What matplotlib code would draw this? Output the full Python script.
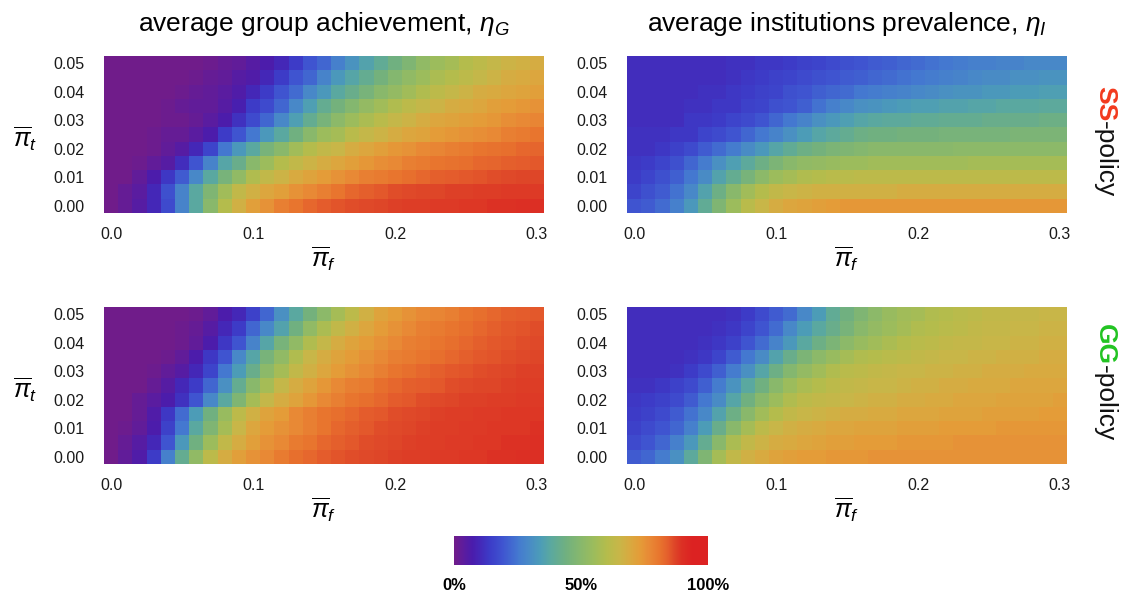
import matplotlib
matplotlib.use('Agg')
import matplotlib.pyplot as plt
from matplotlib.colors import LinearSegmentedColormap

# ---------------- data ----------------
pi_f = [0.00, 0.01, 0.02, 0.03, 0.04, 0.05, 0.06, 0.07, 0.08, 0.09, 0.10,
        0.11, 0.12, 0.13, 0.14, 0.15, 0.16, 0.17, 0.18, 0.19, 0.20,
        0.21, 0.22, 0.23, 0.24, 0.25, 0.26, 0.27, 0.28, 0.29, 0.30]
pi_t = [0.050, 0.045, 0.040, 0.035, 0.030, 0.025, 0.020, 0.015, 0.010, 0.005, 0.000]

x_ticks = [0.0, 0.1, 0.2, 0.3]
x_ticklabels = ["0.0", "0.1", "0.2", "0.3"]
y_ticks = [0.00, 0.01, 0.02, 0.03, 0.04, 0.05]
y_ticklabels = ["0.00", "0.01", "0.02", "0.03", "0.04", "0.05"]
cbar_ticks = [0.0, 0.5, 1.0]
cbar_labels = ["0%", "50%", "100%"]

titles = ["average group achievement, $\\eta_G$", "average institutions prevalence, $\\eta_I$"]
policies = ["SS", "GG"]

# SS-policy, group achievement (rows: pi_t from 0.05 down to 0.00)
ss_group = [
    [0, 0, 0, 0, 0, 0, 0, 0.01, 0.02, 0.03, 0.05, 0.07, 0.10, 0.14, 0.19, 0.22, 0.27, 0.32, 0.36, 0.40, 0.44, 0.48, 0.52, 0.55, 0.57, 0.60, 0.62, 0.64, 0.66, 0.67, 0.68],
    [0, 0, 0, 0, 0, 0, 0.01, 0.02, 0.03, 0.05, 0.06, 0.10, 0.14, 0.19, 0.22, 0.28, 0.33, 0.37, 0.41, 0.45, 0.49, 0.52, 0.55, 0.58, 0.60, 0.62, 0.64, 0.66, 0.68, 0.69, 0.70],
    [0, 0, 0, 0, 0, 0.01, 0.02, 0.03, 0.04, 0.06, 0.10, 0.14, 0.19, 0.23, 0.29, 0.33, 0.38, 0.42, 0.46, 0.50, 0.53, 0.56, 0.59, 0.62, 0.64, 0.66, 0.68, 0.69, 0.70, 0.71, 0.72],
    [0, 0, 0, 0, 0.01, 0.02, 0.03, 0.03, 0.05, 0.08, 0.14, 0.17, 0.22, 0.29, 0.35, 0.41, 0.45, 0.49, 0.53, 0.56, 0.59, 0.62, 0.64, 0.66, 0.68, 0.69, 0.70, 0.72, 0.73, 0.74, 0.75],
    [0, 0, 0, 0, 0.01, 0.01, 0.02, 0.04, 0.07, 0.12, 0.17, 0.22, 0.29, 0.35, 0.41, 0.46, 0.51, 0.55, 0.58, 0.61, 0.64, 0.66, 0.68, 0.70, 0.71, 0.72, 0.73, 0.74, 0.76, 0.77, 0.78],
    [0, 0, 0, 0.01, 0.02, 0.02, 0.04, 0.07, 0.14, 0.19, 0.25, 0.33, 0.38, 0.44, 0.50, 0.55, 0.57, 0.61, 0.64, 0.66, 0.68, 0.70, 0.71, 0.73, 0.74, 0.75, 0.76, 0.77, 0.79, 0.80, 0.81],
    [0, 0, 0, 0.01, 0.03, 0.05, 0.10, 0.16, 0.25, 0.33, 0.38, 0.46, 0.50, 0.56, 0.60, 0.63, 0.65, 0.68, 0.70, 0.72, 0.74, 0.75, 0.77, 0.78, 0.79, 0.80, 0.81, 0.815, 0.82, 0.83, 0.835],
    [0, 0, 0.01, 0.03, 0.05, 0.11, 0.19, 0.28, 0.37, 0.42, 0.50, 0.55, 0.60, 0.63, 0.66, 0.68, 0.70, 0.72, 0.74, 0.76, 0.77, 0.79, 0.80, 0.81, 0.815, 0.82, 0.83, 0.835, 0.84, 0.845, 0.85],
    [0, 0, 0.03, 0.07, 0.13, 0.20, 0.29, 0.38, 0.46, 0.52, 0.59, 0.63, 0.66, 0.69, 0.71, 0.73, 0.75, 0.77, 0.79, 0.80, 0.81, 0.82, 0.83, 0.84, 0.845, 0.85, 0.855, 0.86, 0.865, 0.87, 0.87],
    [0, 0.02, 0.04, 0.10, 0.18, 0.28, 0.38, 0.48, 0.56, 0.63, 0.67, 0.70, 0.72, 0.75, 0.77, 0.79, 0.81, 0.83, 0.84, 0.85, 0.86, 0.865, 0.87, 0.87, 0.875, 0.875, 0.88, 0.88, 0.885, 0.885, 0.885],
    [0, 0.02, 0.05, 0.10, 0.17, 0.28, 0.38, 0.50, 0.60, 0.67, 0.72, 0.75, 0.79, 0.81, 0.83, 0.845, 0.855, 0.86, 0.865, 0.87, 0.875, 0.88, 0.88, 0.885, 0.885, 0.89, 0.89, 0.895, 0.895, 0.90, 0.90],
]

# SS-policy, institutions prevalence
ss_inst = [
    [0.11, 0.11, 0.11, 0.11, 0.11, 0.11, 0.11, 0.12, 0.12, 0.13, 0.13, 0.14, 0.15, 0.16, 0.17, 0.18, 0.19, 0.20, 0.21, 0.22, 0.23, 0.24, 0.25, 0.26, 0.27, 0.27, 0.28, 0.28, 0.29, 0.29, 0.29],
    [0.11, 0.11, 0.11, 0.11, 0.11, 0.11, 0.11, 0.12, 0.13, 0.14, 0.15, 0.16, 0.17, 0.18, 0.19, 0.20, 0.21, 0.22, 0.23, 0.24, 0.25, 0.26, 0.27, 0.28, 0.29, 0.30, 0.30, 0.31, 0.31, 0.32, 0.32],
    [0.11, 0.11, 0.11, 0.11, 0.11, 0.12, 0.12, 0.13, 0.14, 0.15, 0.16, 0.18, 0.19, 0.21, 0.22, 0.23, 0.25, 0.26, 0.27, 0.28, 0.29, 0.30, 0.31, 0.32, 0.32, 0.33, 0.33, 0.34, 0.34, 0.35, 0.35],
    [0.11, 0.11, 0.11, 0.11, 0.12, 0.12, 0.13, 0.13, 0.15, 0.16, 0.18, 0.19, 0.21, 0.24, 0.27, 0.29, 0.31, 0.32, 0.33, 0.34, 0.35, 0.35, 0.36, 0.36, 0.37, 0.37, 0.38, 0.38, 0.38, 0.39, 0.39],
    [0.11, 0.11, 0.11, 0.11, 0.13, 0.13, 0.14, 0.16, 0.17, 0.19, 0.22, 0.25, 0.28, 0.31, 0.33, 0.35, 0.37, 0.38, 0.39, 0.39, 0.40, 0.40, 0.41, 0.41, 0.41, 0.42, 0.42, 0.42, 0.42, 0.43, 0.43],
    [0.12, 0.12, 0.12, 0.13, 0.13, 0.16, 0.17, 0.19, 0.22, 0.25, 0.28, 0.31, 0.34, 0.37, 0.39, 0.41, 0.43, 0.44, 0.44, 0.45, 0.45, 0.45, 0.46, 0.46, 0.46, 0.46, 0.46, 0.47, 0.47, 0.47, 0.47],
    [0.12, 0.12, 0.13, 0.15, 0.17, 0.20, 0.23, 0.26, 0.30, 0.33, 0.37, 0.40, 0.43, 0.45, 0.47, 0.48, 0.49, 0.50, 0.50, 0.50, 0.50, 0.50, 0.50, 0.51, 0.51, 0.51, 0.51, 0.51, 0.51, 0.51, 0.51],
    [0.13, 0.14, 0.16, 0.18, 0.22, 0.26, 0.31, 0.35, 0.39, 0.43, 0.47, 0.50, 0.52, 0.53, 0.54, 0.55, 0.55, 0.56, 0.56, 0.56, 0.56, 0.56, 0.56, 0.56, 0.57, 0.57, 0.57, 0.57, 0.57, 0.57, 0.57],
    [0.14, 0.16, 0.18, 0.21, 0.25, 0.30, 0.36, 0.41, 0.46, 0.51, 0.55, 0.57, 0.59, 0.60, 0.61, 0.61, 0.62, 0.62, 0.62, 0.62, 0.62, 0.62, 0.62, 0.62, 0.62, 0.62, 0.62, 0.62, 0.62, 0.62, 0.62],
    [0.16, 0.18, 0.20, 0.24, 0.29, 0.36, 0.43, 0.50, 0.56, 0.60, 0.63, 0.65, 0.66, 0.67, 0.67, 0.67, 0.67, 0.67, 0.67, 0.68, 0.68, 0.68, 0.68, 0.68, 0.68, 0.68, 0.68, 0.68, 0.68, 0.68, 0.68],
    [0.19, 0.20, 0.23, 0.27, 0.33, 0.40, 0.48, 0.55, 0.61, 0.65, 0.68, 0.70, 0.71, 0.72, 0.73, 0.74, 0.74, 0.74, 0.74, 0.74, 0.74, 0.74, 0.74, 0.74, 0.74, 0.74, 0.74, 0.74, 0.74, 0.74, 0.74],
]

# GG-policy, group achievement
gg_group = [
    [0, 0, 0, 0, 0, 0, 0.01, 0.03, 0.07, 0.10, 0.15, 0.22, 0.31, 0.38, 0.45, 0.51, 0.57, 0.62, 0.67, 0.71, 0.73, 0.75, 0.77, 0.78, 0.79, 0.81, 0.82, 0.83, 0.84, 0.845, 0.85],
    [0, 0, 0, 0, 0, 0.01, 0.02, 0.05, 0.10, 0.14, 0.22, 0.29, 0.36, 0.44, 0.52, 0.58, 0.63, 0.67, 0.70, 0.73, 0.75, 0.77, 0.79, 0.80, 0.81, 0.82, 0.83, 0.84, 0.85, 0.855, 0.86],
    [0, 0, 0, 0, 0, 0.01, 0.03, 0.07, 0.13, 0.19, 0.28, 0.37, 0.46, 0.52, 0.59, 0.64, 0.68, 0.71, 0.73, 0.75, 0.77, 0.79, 0.80, 0.81, 0.82, 0.83, 0.84, 0.85, 0.855, 0.86, 0.865],
    [0, 0, 0, 0, 0.01, 0.03, 0.07, 0.13, 0.19, 0.29, 0.37, 0.46, 0.52, 0.59, 0.65, 0.68, 0.71, 0.73, 0.75, 0.77, 0.79, 0.80, 0.81, 0.82, 0.83, 0.84, 0.85, 0.855, 0.86, 0.865, 0.87],
    [0, 0, 0, 0.01, 0.03, 0.05, 0.10, 0.16, 0.25, 0.34, 0.42, 0.51, 0.57, 0.63, 0.67, 0.70, 0.73, 0.75, 0.77, 0.79, 0.81, 0.82, 0.83, 0.84, 0.85, 0.855, 0.86, 0.865, 0.87, 0.875, 0.875],
    [0, 0, 0, 0.02, 0.05, 0.10, 0.14, 0.22, 0.31, 0.41, 0.50, 0.57, 0.64, 0.68, 0.71, 0.74, 0.77, 0.79, 0.80, 0.82, 0.83, 0.84, 0.845, 0.85, 0.86, 0.865, 0.87, 0.87, 0.875, 0.88, 0.88],
    [0, 0, 0.02, 0.04, 0.07, 0.12, 0.19, 0.29, 0.38, 0.48, 0.57, 0.64, 0.68, 0.71, 0.74, 0.77, 0.79, 0.81, 0.82, 0.83, 0.845, 0.85, 0.86, 0.865, 0.87, 0.875, 0.875, 0.88, 0.88, 0.885, 0.885],
    [0, 0, 0.02, 0.06, 0.13, 0.23, 0.34, 0.44, 0.54, 0.62, 0.67, 0.71, 0.73, 0.77, 0.79, 0.81, 0.82, 0.83, 0.845, 0.85, 0.86, 0.865, 0.87, 0.875, 0.88, 0.88, 0.885, 0.885, 0.89, 0.89, 0.89],
    [0, 0.01, 0.03, 0.07, 0.15, 0.25, 0.38, 0.48, 0.57, 0.65, 0.70, 0.73, 0.75, 0.77, 0.79, 0.81, 0.83, 0.84, 0.85, 0.86, 0.865, 0.87, 0.875, 0.88, 0.88, 0.885, 0.885, 0.89, 0.89, 0.89, 0.895],
    [0, 0.02, 0.05, 0.10, 0.19, 0.33, 0.44, 0.55, 0.63, 0.68, 0.72, 0.75, 0.77, 0.80, 0.81, 0.83, 0.84, 0.85, 0.86, 0.865, 0.87, 0.875, 0.88, 0.88, 0.885, 0.885, 0.89, 0.89, 0.895, 0.895, 0.90],
    [0, 0.03, 0.06, 0.14, 0.27, 0.41, 0.52, 0.62, 0.68, 0.72, 0.75, 0.77, 0.80, 0.82, 0.83, 0.845, 0.855, 0.86, 0.865, 0.87, 0.875, 0.88, 0.88, 0.885, 0.885, 0.89, 0.89, 0.895, 0.895, 0.90, 0.90],
]

# GG-policy, institutions prevalence
gg_inst = [
    [0.11, 0.11, 0.11, 0.11, 0.11, 0.11, 0.11, 0.12, 0.14, 0.17, 0.20, 0.23, 0.29, 0.34, 0.40, 0.44, 0.48, 0.51, 0.54, 0.56, 0.57, 0.59, 0.60, 0.61, 0.62, 0.63, 0.63, 0.64, 0.64, 0.65, 0.65],
    [0.11, 0.11, 0.11, 0.11, 0.11, 0.11, 0.12, 0.13, 0.16, 0.19, 0.23, 0.29, 0.34, 0.38, 0.42, 0.46, 0.50, 0.53, 0.55, 0.57, 0.59, 0.60, 0.61, 0.62, 0.63, 0.64, 0.64, 0.65, 0.65, 0.66, 0.66],
    [0.11, 0.11, 0.11, 0.11, 0.11, 0.12, 0.13, 0.15, 0.19, 0.23, 0.28, 0.33, 0.38, 0.43, 0.47, 0.51, 0.54, 0.56, 0.58, 0.60, 0.61, 0.62, 0.63, 0.64, 0.64, 0.65, 0.65, 0.66, 0.66, 0.67, 0.67],
    [0.11, 0.11, 0.11, 0.11, 0.12, 0.13, 0.16, 0.20, 0.25, 0.30, 0.36, 0.42, 0.47, 0.51, 0.54, 0.57, 0.59, 0.60, 0.61, 0.62, 0.63, 0.64, 0.65, 0.65, 0.66, 0.66, 0.67, 0.67, 0.67, 0.68, 0.68],
    [0.11, 0.11, 0.11, 0.12, 0.14, 0.17, 0.21, 0.26, 0.31, 0.37, 0.43, 0.49, 0.53, 0.56, 0.59, 0.61, 0.62, 0.63, 0.64, 0.65, 0.65, 0.66, 0.66, 0.67, 0.67, 0.68, 0.68, 0.68, 0.69, 0.69, 0.69],
    [0.12, 0.12, 0.13, 0.15, 0.17, 0.21, 0.26, 0.32, 0.38, 0.44, 0.50, 0.55, 0.58, 0.60, 0.62, 0.63, 0.64, 0.65, 0.65, 0.66, 0.67, 0.67, 0.68, 0.68, 0.69, 0.69, 0.69, 0.70, 0.70, 0.70, 0.70],
    [0.13, 0.14, 0.15, 0.17, 0.20, 0.25, 0.30, 0.37, 0.44, 0.50, 0.55, 0.59, 0.62, 0.63, 0.64, 0.65, 0.66, 0.67, 0.67, 0.68, 0.68, 0.69, 0.69, 0.70, 0.70, 0.70, 0.71, 0.71, 0.71, 0.71, 0.72],
    [0.14, 0.15, 0.17, 0.20, 0.24, 0.29, 0.36, 0.43, 0.50, 0.56, 0.60, 0.63, 0.65, 0.66, 0.67, 0.68, 0.68, 0.69, 0.69, 0.70, 0.70, 0.70, 0.71, 0.71, 0.71, 0.72, 0.72, 0.72, 0.72, 0.73, 0.73],
    [0.15, 0.17, 0.19, 0.22, 0.27, 0.34, 0.42, 0.50, 0.57, 0.62, 0.65, 0.67, 0.68, 0.69, 0.70, 0.70, 0.71, 0.71, 0.71, 0.72, 0.72, 0.72, 0.73, 0.73, 0.73, 0.73, 0.74, 0.74, 0.74, 0.74, 0.74],
    [0.17, 0.19, 0.22, 0.27, 0.33, 0.41, 0.50, 0.58, 0.63, 0.66, 0.68, 0.69, 0.70, 0.71, 0.72, 0.72, 0.73, 0.73, 0.73, 0.74, 0.74, 0.74, 0.74, 0.75, 0.75, 0.75, 0.75, 0.75, 0.75, 0.75, 0.75],
    [0.20, 0.22, 0.26, 0.31, 0.39, 0.48, 0.57, 0.63, 0.67, 0.69, 0.71, 0.72, 0.73, 0.73, 0.74, 0.74, 0.74, 0.75, 0.75, 0.75, 0.75, 0.75, 0.75, 0.75, 0.75, 0.75, 0.75, 0.75, 0.75, 0.75, 0.75],
]

# ---------------- style ----------------
plt.rcParams['font.family'] = ['Liberation Sans', 'DejaVu Sans']
plt.rcParams['mathtext.fontset'] = 'custom'
plt.rcParams['mathtext.rm'] = 'Liberation Sans'
plt.rcParams['mathtext.it'] = 'Liberation Sans:italic'
plt.rcParams['mathtext.bf'] = 'Liberation Sans:bold'

cmap_stops = [
    (0.00, '#701c8a'), (0.04, '#5a1ca0'), (0.07, '#4a1cac'), (0.10, '#4428b8'),
    (0.14, '#3c3cc8'), (0.19, '#3f55d0'), (0.25, '#4478d0'), (0.29, '#4888c8'),
    (0.34, '#4c9cb8'), (0.38, '#5aa8a0'), (0.44, '#70b080'), (0.50, '#88b86c'),
    (0.55, '#9cbc5c'), (0.60, '#b4bc4c'), (0.65, '#c8b648'), (0.69, '#d8aa40'),
    (0.73, '#e49c38'), (0.77, '#e88a36'), (0.81, '#e8762e'), (0.845, '#e45e2c'),
    (0.87, '#de4628'), (0.90, '#dc3024'), (0.94, '#dc2222'), (1.00, '#dc2222'),
]
cmap = LinearSegmentedColormap.from_list('achv', cmap_stops)

W, H = 1121, 598
fig = plt.figure(figsize=(W / 100, H / 100), dpi=100)

def fx(px):
    return px / W

def fy(py):
    return 1 - py / H

panels = [[ss_group, ss_inst], [gg_group, gg_inst]]
lefts = [104, 627]
tops = [56, 307]
pw, ph = 440, 157

mesh = None
for r in range(2):
    for c in range(2):
        ax = fig.add_axes([fx(lefts[c]), fy(tops[r] + ph), pw / W, ph / H])
        mesh = ax.pcolormesh(pi_f, pi_t, panels[r][c], shading='nearest',
                             cmap=cmap, vmin=0, vmax=1, linewidth=0,
                             antialiased=False)
        ax.set_xlim(-0.005, 0.305)
        ax.set_ylim(-0.0025, 0.0525)
        ax.set_xticks(x_ticks)
        ax.set_xticklabels(x_ticklabels)
        ax.set_yticks(y_ticks)
        ax.set_yticklabels(y_ticklabels)
        ax.tick_params(axis='both', length=0, labelsize=11.5, colors='#1a1a1a')
        ax.tick_params(axis='x', pad=10)
        ax.tick_params(axis='y', pad=14)
        for s in ax.spines.values():
            s.set_visible(False)
        # x label
        fig.text(fx(lefts[c] + pw / 2), fy(tops[r] + 203), '$\\overline{\\pi}_f$',
                 ha='center', va='center', fontsize=18)
        if c == 0:
            fig.text(fx(25), fy(tops[r] + 83), '$\\overline{\\pi}_t$',
                     ha='center', va='center', fontsize=18)
        if r == 0:
            fig.text(fx(lefts[c] + pw / 2), fy(31), titles[c],
                     ha='center', va='baseline', fontsize=19)
        if c == 1:
            colr = '#f23a1e' if r == 0 else '#22c322'
            ytop = 86 if r == 0 else 324
            t1 = fig.text(fx(1105), fy(ytop), policies[r], rotation=-90,
                          ha='center', va='top', fontsize=19,
                          fontweight='bold', color=colr)
            ax.annotate('-policy', xy=(0.5, 0), xycoords=t1, rotation=-90,
                        ha='center', va='top', fontsize=19, color='#111111',
                        annotation_clip=False)

# colorbar
cax = fig.add_axes([fx(454), fy(565), 254 / W, 29 / H])
cb = fig.colorbar(mesh, cax=cax, orientation='horizontal', ticks=cbar_ticks)
cb.set_ticklabels(cbar_labels)
cb.outline.set_visible(False)
cax.tick_params(length=0, pad=9, labelsize=12)
for lab in cax.get_xticklabels():
    lab.set_fontweight('bold')

fig.savefig('out.png', dpi=100)
